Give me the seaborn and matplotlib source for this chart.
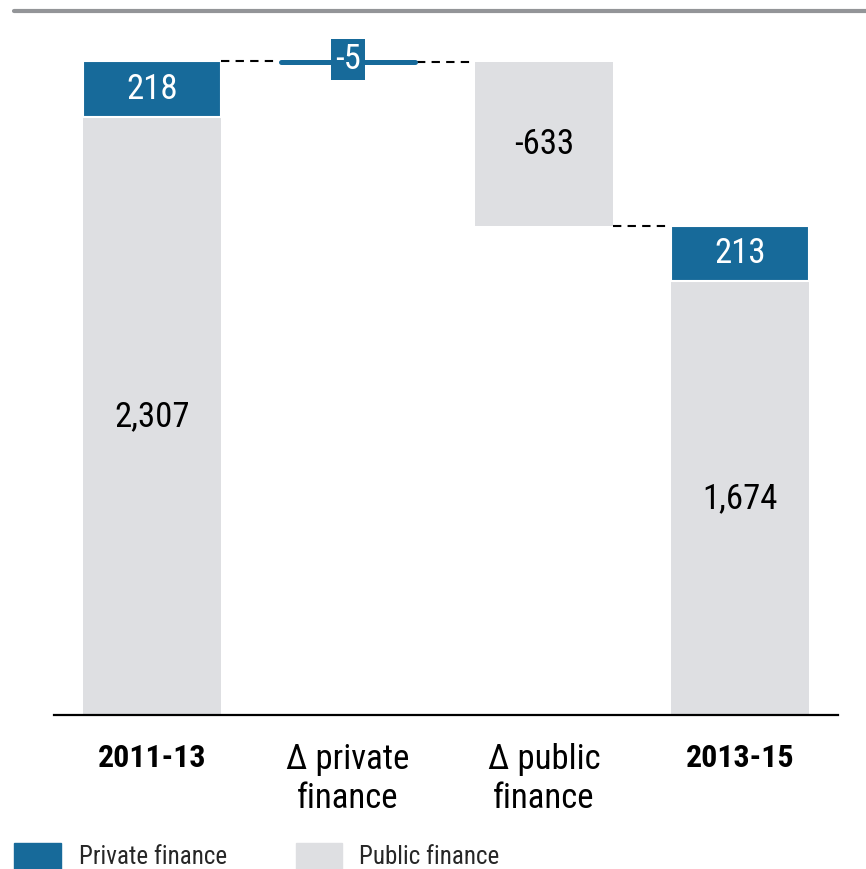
import os
import matplotlib
matplotlib.use("Agg")
import matplotlib.pyplot as plt
from matplotlib import font_manager as fm
from matplotlib.patches import Rectangle
from matplotlib.lines import Line2D
import seaborn as sns
import pandas as pd

# ---- data ----
categories = ["2011-13", "Δ private\nfinance", "Δ public\nfinance", "2013-15"]
public_start = 2307
private_start = 218
delta_private = -5
delta_public = -633
public_end = 1674
private_end = 213
value_labels = ["218", "2,307", "-5", "-633", "213", "1,674"]
legend_labels = ["Private finance", "Public finance"]

BLUE = "#176a9a"
GRAY = "#dedfe2"
W = 0.7

sns.set_theme(style="white")
plt.rcParams["font.family"] = ["Liberation Sans", "DejaVu Sans"]


def _wnum(w):
    if isinstance(w, (int, float)):
        return w
    return fm.weight_dict.get(str(w).lower(), 400)


def find_condensed(bold):
    prio = ["liberation sans narrow", "arial narrow", "roboto condensed",
            "dejavu sans condensed", "dejavusanscondensed", "open sans condensed",
            "opensans_condensed", "noto sans condensed"]
    best, best_score = None, None
    target = 700 if bold else 400
    for f in fm.fontManager.ttflist:
        nm = (f.name + " " + os.path.basename(f.fname)).lower()
        cond = ("narrow" in nm or "condensed" in nm or
                str(f.stretch) in ("condensed", "semi-condensed", "extra-condensed"))
        if not cond:
            continue
        if "italic" in nm or "oblique" in nm or f.style != "normal":
            continue
        if "extra" in nm or "ultra" in nm or "semi" in nm:
            continue
        p = len(prio)
        for i, k in enumerate(prio):
            if k in nm or k.replace(" ", "") in nm.replace(" ", ""):
                p = i
                break
        score = (p, abs(_wnum(f.weight) - target))
        if best_score is None or score < best_score:
            best, best_score = f.fname, score
    return best


reg_path = find_condensed(False)
bold_path = find_condensed(True)
if reg_path:
    FP = lambda s: fm.FontProperties(fname=reg_path, size=s)
    SCALE = 1.0
else:
    FP = lambda s: fm.FontProperties(family=["Liberation Sans", "DejaVu Sans"], size=s)
    SCALE = 0.86
if bold_path:
    FPB = lambda s: fm.FontProperties(fname=bold_path, size=s)
else:
    FPB = lambda s: fm.FontProperties(family=["Liberation Sans", "DejaVu Sans"],
                                      weight="bold", size=s)

fig = plt.figure(figsize=(8.66, 8.69), dpi=100)
px_per_unit = 654 / 2525
ax_h_px = 694
ax = fig.add_axes([54 / 866, 154 / 869, 784 / 866, ax_h_px / 869])

total_start = public_start + private_start
after_private = total_start + delta_private
after_public = after_private + delta_public

df = pd.DataFrame({"cat": categories,
                   "public": [public_start, 0, 0, public_end]})
sns.barplot(data=df, x="cat", y="public", order=categories, color=GRAY,
            saturation=1, width=W, ax=ax, errorbar=None, linewidth=0)

ax.bar([0, 3], [private_start, private_end], bottom=[public_start, public_end],
       width=W, color=BLUE, edgecolor="white", linewidth=1.5)
ax.bar([2], [-delta_public], bottom=[after_public], width=W, color=GRAY, linewidth=0)
ax.plot([1 - W / 2 + 0.01, 1 + W / 2 - 0.01], [total_start + delta_private / 2] * 2,
        color=BLUE, lw=3.6, solid_capstyle="round", zorder=3)

dash = dict(color="black", lw=1.5, ls=(0, (4, 3)), zorder=2)
ax.plot([0 + W / 2, 1 - W / 2], [total_start] * 2, **dash)
ax.plot([1 + W / 2, 2 - W / 2], [after_private] * 2, **dash)
ax.plot([2 + W / 2, 3 - W / 2], [after_public] * 2, **dash)

fs = 25 * SCALE
ax.text(0, public_start + private_start / 2, value_labels[0], color="white",
        ha="center", va="center", fontproperties=FP(fs))
ax.text(0, public_start / 2, value_labels[1], color="black",
        ha="center", va="center", fontproperties=FP(fs))
ax.text(1, total_start + delta_private / 2 + 8, value_labels[2], color="white",
        ha="center", va="center", fontproperties=FP(fs), zorder=5,
        bbox=dict(boxstyle="square,pad=0.12", fc=BLUE, ec="none"))
ax.text(2, after_public - delta_public / 2, value_labels[3], color="black",
        ha="center", va="center", fontproperties=FP(fs))
ax.text(3, public_end + private_end / 2, value_labels[4], color="white",
        ha="center", va="center", fontproperties=FP(fs))
ax.text(3, public_end / 2, value_labels[5], color="black",
        ha="center", va="center", fontproperties=FP(fs))

ax.set_xlim(-0.5, 3.5)
ax.set_ylim(0, ax_h_px / px_per_unit)
ax.set_xlabel("")
ax.set_ylabel("")
ax.set_yticks([])
ax.set_xticks(range(4))
ax.set_xticklabels(categories)
for i, t in enumerate(ax.get_xticklabels()):
    t.set_fontproperties(FPB(23 * SCALE) if i in (0, 3) else FP(25 * SCALE))
    t.set_linespacing(1.25)
ax.tick_params(axis="x", length=0, pad=20, colors="black")
for s in ["top", "left", "right"]:
    ax.spines[s].set_visible(False)
ax.spines["bottom"].set_color("black")
ax.spines["bottom"].set_linewidth(1.6)

fig.add_artist(Line2D([14 / 866, 1.0], [1 - 11 / 869] * 2, color="#939598", lw=3,
                      transform=fig.transFigure))

fig.add_artist(Rectangle((14 / 866, -0.01), 47 / 866, 0.04, color=BLUE,
                         transform=fig.transFigure))
fig.add_artist(Rectangle((296 / 866, -0.01), 46 / 866, 0.04, color=GRAY,
                         transform=fig.transFigure))
fig.text(79 / 866, 12 / 869, legend_labels[0], fontproperties=FP(18 * SCALE),
         va="center", ha="left")
fig.text(359 / 866, 12 / 869, legend_labels[1], fontproperties=FP(18 * SCALE),
         va="center", ha="left")

fig.savefig("out.png", dpi=100)
